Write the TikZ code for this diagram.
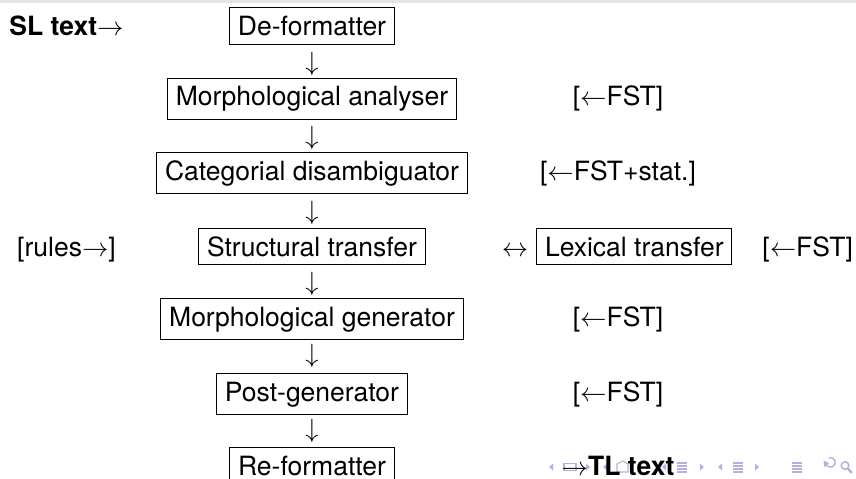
\documentclass[tikz,border=0pt]{standalone}
\usepackage{fontspec}
\setmainfont{TeX Gyre Heros}
\definecolor{navc}{rgb}{0.70,0.70,0.88}
\definecolor{topband}{rgb}{0.90,0.90,0.90}
\newcommand\navLeft[1]{\fill[navc] ({#1+2},463.5) -- ({#1-2},467) -- ({#1+2},470.5) -- cycle;}
\newcommand\navRight[1]{\fill[navc] ({#1-2},463.5) -- ({#1+2},467) -- ({#1-2},470.5) -- cycle;}
\newcommand\navLines[1]{\draw[navc, line width=0.45pt] ({#1-5},463) -- ({#1+5},463) ({#1-5},466) -- ({#1+5},466) ({#1-5},469) -- ({#1+5},469) ({#1-5},472) -- ({#1+5},472);}
\begin{document}
\begin{tikzpicture}[x=0.415pt,y=-0.415pt,
  font=\fontsize{11}{13.2}\selectfont,
  stage/.style={draw, line width=0.4pt, inner sep=3.4pt, anchor=base},
  lbl/.style={inner sep=0pt, anchor=base},
  down/.style={inner sep=0pt, anchor=center}]
\useasboundingbox (0,0) rectangle (856,479);
\fill[topband] (0,0) rectangle (856,2.5);

% navigation symbols
\navLeft{551}
\draw[navc, line width=0.45pt] (564,463.5) rectangle (576,470.5);
\navRight{588}
\navLeft{605}
\draw[navc, line width=0.45pt] (617,472) -- (617,464) -- (623,461) -- (628,464) -- (628,472) -- cycle;
\navRight{640}
\navLeft{664}
\navLines{682}
\navRight{702}
\navLeft{720}
\navLines{738}
\navRight{757}
\navLines{797}
\draw[navc, line width=0.6pt] (826,464) arc (160:-110:4.8);
\fill[navc] (823.5,460.5) -- (829,463) -- (824.5,467.5) -- cycle;
\draw[navc, line width=0.6pt] (845,465.5) circle (3.8);
\draw[navc, line width=1pt] (847.8,468.5) -- (852,473);

% left column
\node[lbl] (sl) at (66.5,35.5) {\textbf{SL text}$\rightarrow$};
\node[lbl] (rules) at (66.5,256) {[rules$\rightarrow$]};

% main column
\node[stage] (defmt) at (312,35.5) {De-formatter};
\node[down] (d1) at (312,64) {$\downarrow$};
\node[stage] (morph) at (312,105.5) {Morphological analyser};
\node[down] (d2) at (312,138) {$\downarrow$};
\node[stage] (cat) at (312,180) {Categorial disambiguator};
\node[down] (d3) at (312,213) {$\downarrow$};
\node[stage] (struct) at (312,256) {Structural transfer};
\node[down] (d4) at (312,284) {$\downarrow$};
\node[stage] (mgen) at (312,326) {Morphological generator};
\node[down] (d5) at (312,356) {$\downarrow$};
\node[stage] (post) at (312,401) {Post-generator};
\node[down] (d6) at (312,431) {$\downarrow$};
\node[stage] (refmt) at (312,475) {Re-formatter};

% right columns
\node[lbl] (f1) at (618,105.5) {[$\leftarrow$FST]};
\node[lbl] (f2) at (618,180) {[$\leftarrow$FST+stat.]};
\node[lbl] (lr) at (515,256) {$\leftrightarrow$};
\node[stage] (lex) at (634.3,256) {Lexical transfer};
\node[lbl, anchor=base west] (f3) at (762,256) {[$\leftarrow$FST]};
\node[lbl] (f4) at (618,326) {[$\leftarrow$FST]};
\node[lbl] (f5) at (618,401) {[$\leftarrow$FST]};
\node[lbl] (tl) at (618,475) {$\rightarrow$\textbf{TL text}};
\end{tikzpicture}
\end{document}
